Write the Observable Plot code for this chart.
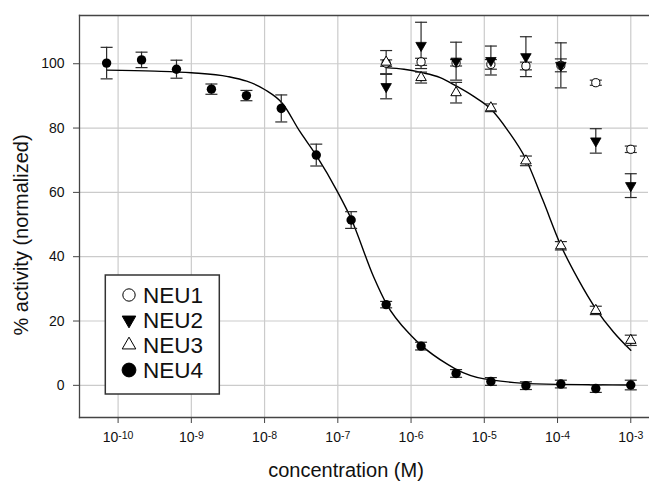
<!DOCTYPE html>
<html>
<head>
<meta charset="utf-8">
<script src="https://cdn.jsdelivr.net/npm/d3@7"></script>
<script src="https://cdn.jsdelivr.net/npm/@observablehq/plot@0.6"></script>
<style>
  html, body { margin: 0; padding: 0; background: #fff; }
  #chart { width: 649px; height: 482px; }
</style>
</head>
<body>
<div id="chart"></div>
<script>
// ---- data ----
const concentrations = [6.97e-11, 2.09e-10, 6.27e-10, 1.88e-9, 5.65e-9, 1.69e-8, 5.08e-8, 1.52e-7,
                        4.57e-7, 1.37e-6, 4.12e-6, 1.23e-5, 3.70e-5, 1.11e-4, 3.33e-4, 1.0e-3];
const highConcentrations = [4.57e-7, 1.37e-6, 4.12e-6, 1.23e-5, 3.70e-5, 1.11e-4, 3.33e-4, 1.0e-3];

const neu1Values = [100.2, 100.6, 100.3, 99.8, 99.3, 99.5, 94.1, 73.4];
const neu1Errors = [1.0, 1.1, 1.0, 1.5, 1.2, 2.0, 0.8, 1.0];
const neu2Values = [92.9, 105.7, 100.8, 101.0, 102.2, 99.5, 76.0, 62.1];
const neu2Errors = [3.8, 7.2, 5.9, 4.5, 6.2, 7.0, 3.8, 3.7];
const neu3Values = [100.5, 95.7, 91.0, 86.3, 69.8, 43.4, 23.3, 14.0];
const neu3Errors = [3.6, 1.7, 3.2, 1.2, 1.5, 1.3, 1.3, 1.6];
const neu4Values = [100.2, 101.2, 98.3, 92.1, 90.1, 86.1, 71.6, 51.4, 25.1, 12.2, 3.7, 1.2, -0.1, 0.4, -1.0, 0.1];
const neu4Errors = [4.9, 2.4, 2.8, 1.6, 1.6, 4.2, 3.4, 2.6, 1.0, 1.2, 1.2, 1.2, 1.2, 1.2, 1.2, 1.5];

// fitted curves
const fit4Conc  = [6.97e-11, 3.16e-10, 1e-9, 3.16e-9, 1e-8, 1.78e-8, 3.0e-8, 5.08e-8, 1e-7, 1.52e-7,
                   3.1e-7, 4.57e-7, 1e-6, 1.37e-6, 3.16e-6, 4.12e-6, 1e-5, 1.23e-5, 3.16e-5, 1e-4, 3.16e-4, 1e-3];
const fit4Value = [98.0, 97.7, 97.2, 96.0, 92.0, 87.5, 79.1, 71.5, 60.0, 51.8,
                   33.6, 25.5, 15.5, 12.5, 6.5, 5.0, 2.0, 1.7, 0.7, 0.3, 0.2, 0.1];
const fit3Conc  = [4.57e-7, 8e-7, 1.37e-6, 2.5e-6, 4.12e-6, 7e-6, 1.23e-5, 2.1e-5, 3.7e-5, 6.3e-5,
                   1.11e-4, 1.9e-4, 3.33e-4, 5.8e-4, 1e-3];
const fit3Value = [98.8, 98.3, 97.3, 95.7, 93.1, 90.0, 85.9, 79.2, 70.3, 57.6,
                   43.5, 33.1, 23.8, 16.6, 10.9];

const seriesNames = ["NEU1", "NEU2", "NEU3", "NEU4"];
const xTicks = [1e-10, 1e-9, 1e-8, 1e-7, 1e-6, 1e-5, 1e-4, 1e-3];
const yTicks = [0, 20, 40, 60, 80, 100];
const xDomain = [Math.pow(10, -10.527), Math.pow(10, -2.758)];
const yDomain = [-10, 115];
const xLabel = "concentration (M)";
const yLabel = "% activity (normalized)";

// ---- tables ----
function rows(name, xs, vs, es) {
  return vs.map((v, i) => ({series: name, conc: xs[i], value: v, err: es[i]}));
}
const neu1 = rows("NEU1", highConcentrations, neu1Values, neu1Errors);
const neu2 = rows("NEU2", highConcentrations, neu2Values, neu2Errors);
const neu3 = rows("NEU3", highConcentrations, neu3Values, neu3Errors);
const neu4 = rows("NEU4", concentrations, neu4Values, neu4Errors);
const all = [...neu1, ...neu2, ...neu3, ...neu4];
const fit4 = fit4Conc.map((c, i) => ({conc: c, value: fit4Value[i]}));
const fit3 = fit3Conc.map((c, i) => ({conc: c, value: fit3Value[i]}));

const capSymbol = { draw(ctx) { ctx.moveTo(-6, 0); ctx.lineTo(6, 0); } };
const errColor = "#2a2a2a";
const gridColor = "#cbcbcb";
const frameColor = "#444";

const chart = Plot.plot({
  width: 649,
  height: 482,
  marginLeft: 79,
  marginRight: 1,
  marginTop: 15,
  marginBottom: 65,
  style: {fontFamily: "'Liberation Sans', Arial, Helvetica, sans-serif", fontSize: "14px", color: "#111", background: "#fff"},
  x: {type: "log", domain: xDomain},
  y: {domain: yDomain},
  marks: [
    Plot.gridX(xTicks, {stroke: gridColor, strokeOpacity: 1, strokeWidth: 1.2}),
    Plot.gridY(yTicks, {stroke: gridColor, strokeOpacity: 1, strokeWidth: 1.2}),
    Plot.frame({anchor: "left", stroke: frameColor, strokeWidth: 1.3}),
    Plot.frame({anchor: "top", stroke: frameColor, strokeWidth: 1.3}),
    Plot.frame({anchor: "bottom", stroke: frameColor, strokeWidth: 1.3}),
    Plot.axisX({ticks: xTicks, tickSize: 6, tickPadding: 9, fontSize: 14, label: null,
                stroke: frameColor, tickFormat: d => "10|" + Math.round(Math.log10(d))}),
    Plot.axisY({ticks: yTicks, tickSize: 6, tickPadding: 9, fontSize: 14, label: null, stroke: frameColor}),
    Plot.line(fit4, {x: "conc", y: "value", curve: "monotone-x", stroke: "#000", strokeWidth: 1.4}),
    Plot.line(fit3, {x: "conc", y: "value", curve: "monotone-x", stroke: "#000", strokeWidth: 1.4}),
    Plot.ruleX(all, {x: "conc", y1: d => d.value - d.err, y2: d => d.value + d.err, stroke: errColor, strokeWidth: 1.2}),
    Plot.dot(all, {x: "conc", y: d => d.value - d.err, symbol: capSymbol, fill: "none", stroke: errColor, strokeWidth: 1.2, r: 3}),
    Plot.dot(all, {x: "conc", y: d => d.value + d.err, symbol: capSymbol, fill: "none", stroke: errColor, strokeWidth: 1.2, r: 3}),
    Plot.dot(neu1, {x: "conc", y: "value", symbol: "circle", r: 4.1, fill: "#fff", stroke: "#000", strokeWidth: 1}),
    Plot.dot(neu3, {x: "conc", y: "value", symbol: "triangle", r: 3.9, fill: "#fff", stroke: "#000", strokeWidth: 1}),
    Plot.dot(neu2, {x: "conc", y: "value", symbol: "triangle", rotate: 180, r: 3.9, fill: "#000", stroke: "#000", strokeWidth: 0.8}),
    Plot.dot(neu4, {x: "conc", y: "value", symbol: "circle", r: 4.7, fill: "#000", stroke: "none"})
  ]
});

document.getElementById("chart").appendChild(chart);
const svg = d3.select(chart);

// superscript exponents on x tick labels
svg.selectAll('g[aria-label="x-axis tick label"] text').each(function () {
  const parts = this.textContent.split("|");
  const t = d3.select(this);
  t.text(null);
  t.append("tspan").text(parts[0]);
  t.append("tspan").attr("dy", "-3px").attr("font-size", "10.5px").text(parts[1]);
});

// axis titles
svg.append("text").attr("x", 346).attr("y", 477).attr("text-anchor", "middle")
  .attr("font-size", 20).attr("fill", "#111").text(xLabel);
svg.append("text").attr("transform", "translate(27.7,235) rotate(-90)").attr("text-anchor", "middle")
  .attr("font-size", 20).attr("fill", "#111").text(yLabel);

// legend box
const legend = svg.append("g").attr("aria-label", "legend");
legend.append("rect").attr("x", 105.3).attr("y", 275).attr("width", 114).attr("height", 119)
  .attr("fill", "#fff").attr("stroke", "#333").attr("stroke-width", 1.5);
const legendSymbols = [
  {type: d3.symbolCircle, size: 120, fill: "#fff", rotate: 0},
  {type: d3.symbolTriangle, size: 80, fill: "#000", rotate: 180},
  {type: d3.symbolTriangle, size: 80, fill: "#fff", rotate: 0},
  {type: d3.symbolCircle, size: 150, fill: "#000", rotate: 0}
];
seriesNames.forEach((name, i) => {
  const cy = 295 + i * 25;
  const s = legendSymbols[i];
  legend.append("path").attr("d", d3.symbol(s.type, s.size)())
    .attr("transform", `translate(129,${cy}) rotate(${s.rotate})`)
    .attr("fill", s.fill).attr("stroke", "#000").attr("stroke-width", 1);
  legend.append("text").attr("x", 143).attr("y", cy + 8.2).attr("font-size", 22.5)
    .attr("text-anchor", "start").attr("fill", "#111").text(name);
});
</script>
</body>
</html>
